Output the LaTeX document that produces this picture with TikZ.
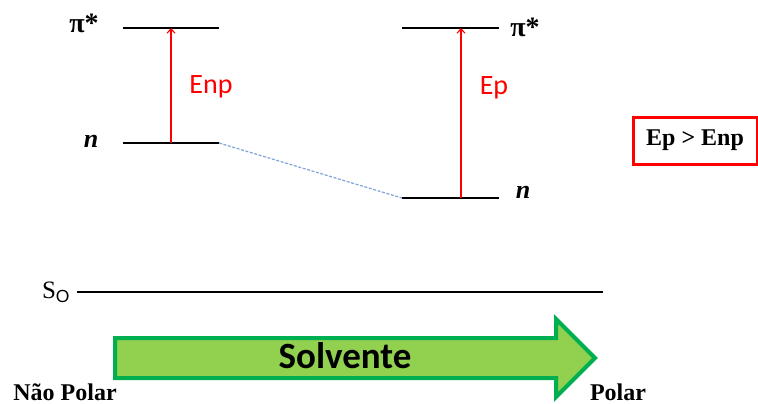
\documentclass[tikz,border=0pt]{standalone}
\usepackage{fontspec}
\setmainfont{Liberation Serif}
\setsansfont{Liberation Sans}
\newfontfamily\solvfont{Carlito}
\usepackage{xcolor}
\usepackage{tikz}
\usetikzlibrary{arrows.meta,positioning,shapes.arrows}
\definecolor{orbred}{HTML}{FF0000}
\definecolor{orbshiftblue}{HTML}{7FA6D8}
\definecolor{orbgreenfill}{HTML}{92D050}
\definecolor{orbgreenline}{HTML}{00B050}
\tikzset{%
  orblevel/.style={%
    draw=black,
    line width=0.75pt
  },
  orbshift/.style={%
    draw=orbshiftblue,
    line width=0.6pt,
    dash pattern=on 1.5pt off 0.8pt
  },
  orbarrow/.style={-{Straight Barb[length=2.2pt,width=4pt]},draw=orbred,line width=0.55pt},
  orblabel/.style={%
    inner sep=0pt,
    font=\fontsize{12}{14}\selectfont\bfseries
  },
  orbstate/.style={%
    orblabel,
    font=\fontsize{14}{16}\selectfont\bfseries
  },
  orbenergy/.style={%
    inner sep=0pt,
    text=orbred,
    font=\solvfont\fontsize{14}{16}\selectfont
  },
  orbbox/.style={%
    draw=orbred,
    line width=1.5pt,
    minimum width=62pt,
    minimum height=23.5pt,
    inner sep=0pt,
    font=\fontsize{12}{14}\selectfont\bfseries
  },
  orbsolvent/.style={%
    single arrow,
    draw=orbgreenline,
    fill=orbgreenfill,
    line width=2pt,
    minimum height=240pt,
    minimum width=37pt,
    single arrow head extend=9.5pt,
    single arrow tip angle=90,
    text height=12pt,
    text depth=2pt,
    inner ysep=2pt,
    inner xsep=0pt,
    font=\solvfont\bfseries\fontsize{18.5}{20}\selectfont
  }
}
\begin{document}
\begin{tikzpicture}[x=0.5pt,y=-0.5pt]
    \useasboundingbox (0,0) rectangle (758,403);

    % energy levels
    \coordinate (piLa) at (123,28);
    \coordinate (piLb) at (219,28);
    \coordinate (nLa) at (123,143);
    \coordinate (nLb) at (219,143);
    \coordinate (piRa) at (402,28);
    \coordinate (piRb) at (499,28);
    \coordinate (nRa) at (402,198);
    \coordinate (nRb) at (499,198);
    \coordinate (soa) at (77,292);
    \coordinate (sob) at (603,292);
    \coordinate (enpbot) at (171,143);
    \coordinate (enptop) at (171,28);
    \coordinate (epbot) at (461,198);
    \coordinate (eptop) at (461,28);

    \draw[orblevel] (piLa) -- (piLb);
    \draw[orblevel] (nLa) -- (nLb);
    \draw[orblevel] (piRa) -- (piRb);
    \draw[orblevel] (nRa) -- (nRb);
    \draw[orblevel] (soa) -- (sob);
    \draw[orbshift] (nLb) -- (nRa);

    \draw[orbarrow] (enpbot) -- (enptop);
    \draw[orbarrow] (epbot) -- (eptop);

    \node[orbstate] (piLlab) at (84,23) {π*};
    \node[orbstate,font=\fontsize{13}{15}\selectfont\bfseries] (nLlab) at (91,141) {\textit{n}};
    \node[orbstate] (piRlab) at (525,27) {π*};
    \node[orbstate,font=\fontsize{13}{15}\selectfont\bfseries] (nRlab) at (523,192) {\textit{n}};
    \node[orblabel,font=\fontsize{12.5}{14}\selectfont,left=3pt of soa] (solab) {S\textsubscript{\sffamily O}};

    \node[orbenergy] (enplab) at (211,87) {Enp};
    \node[orbenergy] (eplab) at (494,88) {Ep};
    \node[orbbox] (cmp) at (695,140.5) {Ep > Enp};

    \node[orbsolvent,anchor=tail] (solv) at (113,358) {Solvente};
    \node[orblabel,anchor=base] (nonpolar) at (65,400) {Não Polar};
    \node[orblabel,anchor=base] (polar) at (618,400) {Polar};
  \end{tikzpicture}
\end{document}
